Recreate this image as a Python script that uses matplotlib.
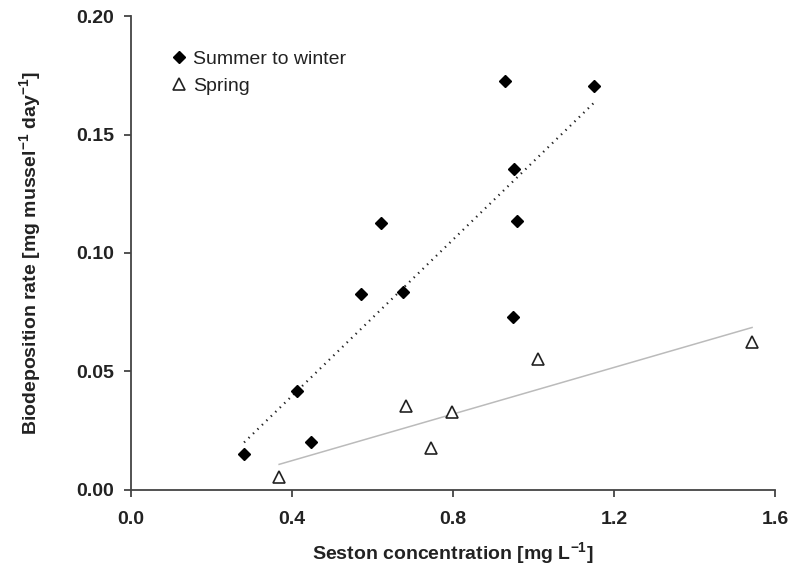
import numpy as np
import matplotlib
matplotlib.use("Agg")
import matplotlib.pyplot as plt

plt.rcParams['font.family'] = 'sans-serif'
plt.rcParams['font.sans-serif'] = ['Liberation Sans', 'Arial', 'DejaVu Sans']
plt.rcParams['mathtext.fontset'] = 'custom'
plt.rcParams['mathtext.rm'] = 'Liberation Sans'
plt.rcParams['mathtext.bf'] = 'Liberation Sans:bold'
plt.rcParams['mathtext.default'] = 'rm'

# Summer to winter (filled diamonds)
summer_x = [0.281, 0.412, 0.447, 0.571, 0.621, 0.676, 0.929, 0.951, 0.959, 0.949, 1.150]
summer_y = [0.0152, 0.0418, 0.0203, 0.0827, 0.1127, 0.0835, 0.1726, 0.1354, 0.1135, 0.0730, 0.1705]

# Spring (open triangles)
spring_x = [0.368, 0.683, 0.797, 0.745, 1.011, 1.543]
spring_y = [0.0055, 0.0354, 0.0330, 0.0177, 0.0553, 0.0624]

xticks = [0.0, 0.4, 0.8, 1.2, 1.6]
yticks = [0.00, 0.05, 0.10, 0.15, 0.20]

fig = plt.figure(figsize=(7.91, 5.70), dpi=100, facecolor='white')
ax = fig.add_axes([0.1656, 0.1404, 0.8142, 0.8315])

# regression lines
for xs, ys, kw in [(summer_x, summer_y, dict(color='#222222', lw=1.6, ls=(0, (0.6, 2.2)))),
                   (spring_x, spring_y, dict(color='#bbbbbb', lw=1.1, ls='-'))]:
    k, b = np.polyfit(xs, ys, 1)
    xl = np.array([min(xs), max(xs)])
    ax.plot(xl, k * xl + b, zorder=1, **kw)

ax.plot(summer_x, summer_y, ls='none', marker='D', ms=6.3, color='black',
        label='Summer to winter', zorder=3)
ax.plot(spring_x, spring_y, ls='none', marker='^', ms=8, mfc='white',
        mec='#222222', mew=1.2, label='Spring', zorder=3)

ax.set_xlim(0, 1.6)
ax.set_ylim(0, 0.2)
ax.set_xticks(xticks)
ax.set_yticks(yticks)
ax.set_xticklabels([f'{v:.1f}' for v in xticks])
ax.set_yticklabels([f'{v:.2f}' for v in yticks])

for s in ['top', 'right']:
    ax.spines[s].set_visible(False)
for s in ['left', 'bottom']:
    ax.spines[s].set_color('#444444')
    ax.spines[s].set_linewidth(1.3)
ax.tick_params(direction='out', length=5, width=1.3, color='#444444',
               labelsize=14, labelcolor='#222222')
ax.tick_params(axis='x', pad=10)
ax.tick_params(axis='y', pad=7)
for lab in ax.get_xticklabels() + ax.get_yticklabels():
    lab.set_fontweight('bold')

ax.set_xlabel('Seston concentration [mg L$^{\\mathbf{-1}}$]', fontsize=14,
              fontweight='bold', color='#222222', labelpad=9)
ax.set_ylabel('Biodeposition rate [mg mussel$^{\\mathbf{-1}}$ day$^{\\mathbf{-1}}$]', fontsize=14,
              fontweight='bold', color='#222222', labelpad=24)

ax.legend(loc='upper left', bbox_to_anchor=(0.03, 0.965), frameon=False,
          fontsize=14, handletextpad=0.1, handlelength=1.2, labelspacing=0.5,
          labelcolor='#222222')

fig.savefig('out.png', dpi=100)
